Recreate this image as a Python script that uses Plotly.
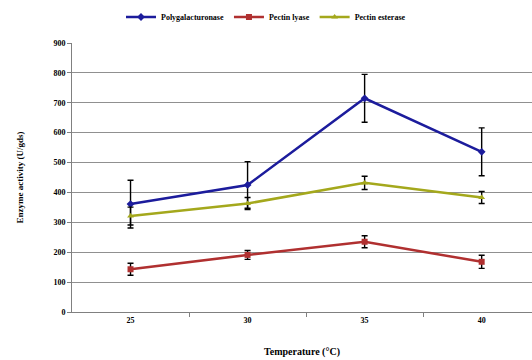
import plotly.graph_objects as go

categories = ["25", "30", "35", "40"]
pg = [361, 425, 715, 536]
pg_err = [80, 78, 80, 80]
pl = [143, 191, 235, 168]
pl_err = [20, 15, 20, 22]
pe = [321, 363, 432, 383]
pe_err = [30, 20, 22, 20]

xs = list(range(len(categories)))
font = dict(family="Liberation Serif", size=8, color="black")

fig = go.Figure()
series = [
    ("Polygalacturonase", pg, pg_err, "#1c1c9c", "diamond"),
    ("Pectin lyase", pl, pl_err, "#b03030", "square"),
    ("Pectin esterase", pe, pe_err, "#a4a81c", "triangle-up"),
]
for name, y, e, c, sym in series:
    fig.add_trace(go.Scatter(
        x=xs, y=y, name="<b>" + name + "</b>", mode="lines+markers",
        line=dict(color=c, width=2.5),
        marker=dict(symbol=sym, size=6, color=c),
        error_y=dict(type="data", array=e, visible=True, color="black", thickness=1.4, width=3),
    ))

fig.update_layout(
    width=532, height=360,
    margin=dict(l=72, r=0, t=43, b=48),
    paper_bgcolor="white", plot_bgcolor="white",
    font=font,
    legend=dict(orientation="h", x=0.5, xanchor="center", xref="container",
                y=1 - 17 / 360, yanchor="middle", yref="container",
                font=dict(family="Liberation Serif", size=8, color="black"),
                itemwidth=30, tracegroupgap=0),
    xaxis=dict(range=[-0.5, 3.43], tickvals=xs, ticktext=["<b>%s</b>" % c for c in categories], ticks="",
               showgrid=False, showline=True, linecolor="#808080", linewidth=1,
               zeroline=False,
               minor=dict(tickvals=[0.5, 1.5, 2.5], ticks="outside", ticklen=4, tickcolor="#808080"),
               title=dict(text="<b>Temperature (°C)</b>", font=dict(family="Liberation Serif", size=10), standoff=24),
               tickfont=dict(family="Liberation Serif", size=8, color="black")),
    yaxis=dict(range=[0, 900], dtick=100, showgrid=True, gridcolor="#909090", gridwidth=1,
               showline=True, linecolor="#808080", linewidth=1, ticks="outside", ticklen=4,
               tickcolor="#808080", zeroline=False, tickprefix="<b>", ticksuffix="</b>",
               title=dict(text="<b>Enzyme activity (U/gds)</b>", font=dict(family="Liberation Serif", size=9), standoff=28),
               tickfont=dict(family="Liberation Serif", size=8, color="black")),
)

fig.write_html("out.html")
